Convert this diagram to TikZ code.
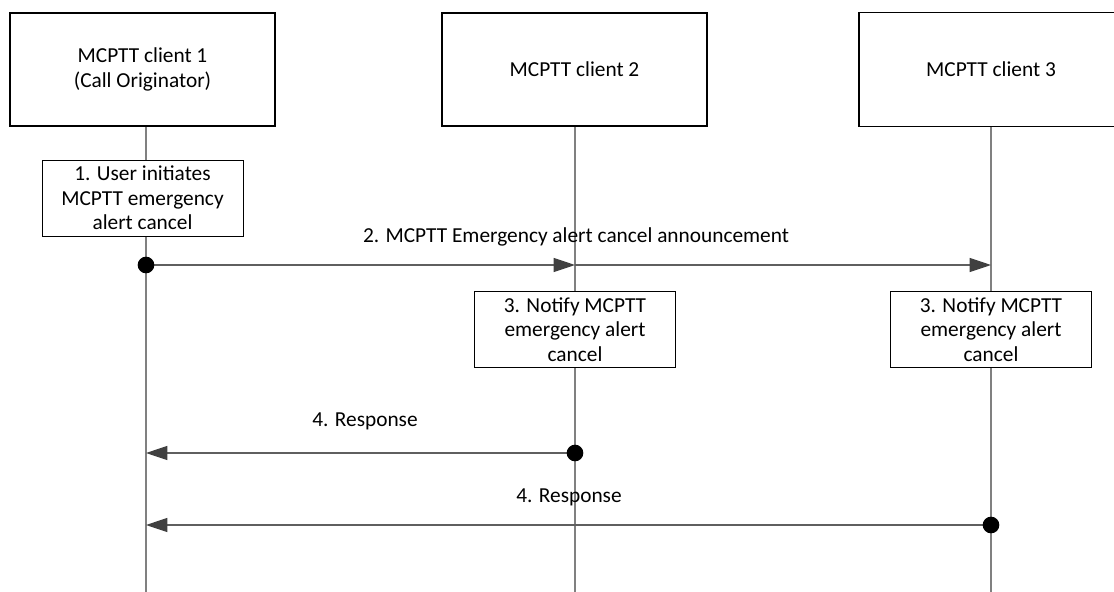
\documentclass[tikz,border=0pt]{standalone}
\usepackage{fontspec}
\setmainfont{Carlito}
\usetikzlibrary{positioning, arrows.meta}

\definecolor{lifegray}{RGB}{128,128,128}
\definecolor{msggray}{RGB}{95,95,95}
\definecolor{tipgray}{RGB}{64,64,64}

\tikzset{
    entity/.style={draw, thick, rectangle, fill=white, align=center,
        minimum width=198.75pt, minimum height=84.75pt, inner sep=0pt},
    stepbox/.style={draw, rectangle, fill=white, align=center,
        minimum width=150.75pt, minimum height=57pt, inner sep=0pt},
    lifeline/.style={draw=lifegray, line width=0.8pt},
    msg/.style={draw=msggray, line width=0.8pt,
        -{Triangle[length=16pt, width=10.5pt, color=tipgray]}},
    origin/.style={circle, fill=black, inner sep=0pt, minimum size=12.5pt},
    msglabel/.style={inner sep=0pt}
}

\begin{document}
\begin{tikzpicture}[x=0.75pt, y=-0.75pt, font=\fontsize{16}{18.5}\selectfont]
    \useasboundingbox (0,0) rectangle (1114,592);

    % lifelines first, boxes drawn on top
    \coordinate (c1bot) at (146,592);
    \coordinate (c2bot) at (575,592);
    \coordinate (c3bot) at (991,592);
    \draw[lifeline] (146,126) -- (c1bot);
    \draw[lifeline] (575,126) -- (c2bot);
    \draw[lifeline] (991,126) -- (c3bot);

    % participants (client 3 runs off the right edge)
    \node[entity] (client1) at (142.5,69.5) {MCPTT client 1\\(Call Originator)};
    \node[entity] (client2) at (574.5,69.5) {MCPTT client 2};
    \node[entity, draw=none, anchor=west, minimum width=191pt] (client3) at (859,69.5) {};
    \draw[thick] (client3.north east) -- (client3.north west)
        -- (client3.south west) -- (client3.south east);
    \node[msglabel] (client3name) at (991,69.5) {MCPTT client 3};

    % local steps
    \node[stepbox] (init) at (142.5,198) {1. User initiates\\MCPTT emergency\\alert cancel};
    \node[stepbox] (notify2) at (575,329.5) {3. Notify MCPTT\\emergency alert\\cancel};
    \node[stepbox] (notify3) at (991,329.5) {3. Notify MCPTT\\emergency alert\\cancel};

    % message points on the lifelines
    \coordinate (a1) at (146,265);
    \coordinate (a2) at (575,265);
    \coordinate (a3) at (991,265);
    \coordinate (r2) at (575,453);
    \coordinate (r1) at (146,453);
    \coordinate (s3) at (991,525);
    \coordinate (s1) at (146,525);

    % 2. announcement
    \draw[msg] (a1) -- (a2);
    \draw[msg] (a2) -- (a3);
    \node[origin] (dot1) at (a1) {};
    \node[msglabel] (lbl2) at (576,237) {2. MCPTT Emergency alert cancel announcement};

    % 4. responses
    \draw[msg] (r2) -- (r1);
    \node[origin] (dot2) at (r2) {};
    \node[msglabel] (lbl4a) at (365,421) {4. Response};

    \draw[msg] (s3) -- (s1);
    \node[origin] (dot3) at (s3) {};
    \node[msglabel] (lbl4b) at (569,497) {4. Response};
\end{tikzpicture}
\end{document}
